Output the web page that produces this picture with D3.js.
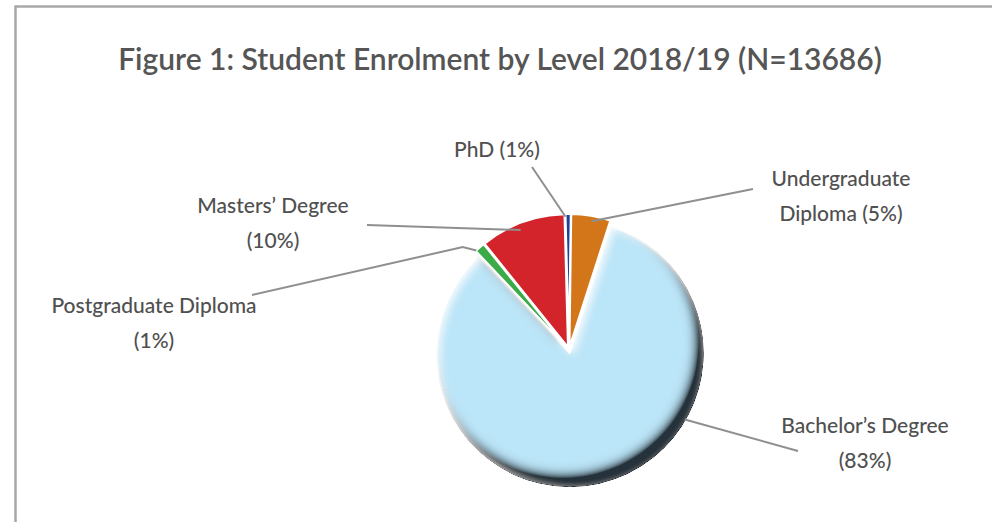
<!DOCTYPE html>
<html>
<head>
<meta charset="utf-8">
<script src="https://cdn.jsdelivr.net/npm/d3@7"></script>
<style>
  body { margin: 0; background: #fff; }
  svg text { font-family: Lato, "Open Sans", sans-serif; fill: #505050; }
</style>
</head>
<body>
<svg id="chart" width="992" height="522"></svg>
<script>
/* -------------------------------------------------------------------------- */
// data (clockwise from 12 o'clock)
const levels = ['PhD', 'Undergraduate Diploma', "Bachelor's Degree", 'Postgraduate Diploma', "Masters' Degree"];
const students = [86, 650, 11360, 170, 1420];
const pctLabels = ['1%', '5%', '83%', '1%', '10%'];
const colors = ['#1f3f9b', '#d27619', '#bbe5f8', '#3bab47', '#d3232b'];
const titleText = 'Figure 1: Student Enrolment by Level 2018/19 (N=13686)';

// label layout: text lines, anchor position, where the leader starts on the slice
const labelLayout = [
  { lines: ['PhD (1%)'], x: 497, y: 157, end: [532, 167], ang: -1.5, k: 0.98 },
  { lines: ['Undergraduate', 'Diploma (5%)'], x: 841, y: 186, end: [753, 189], ang: 10, k: 0.96 },
  { lines: ["Bachelor\u2019s Degree", '(83%)'], x: 865, y: 433, end: [798, 451], ang: 120, k: 1.0 },
  { lines: ['Postgraduate Diploma', '(1%)'], x: 154, y: 313, end: [252, 295], ang: -43, k: 1.0, elbow: 1.09 },
  { lines: ["Masters\u2019 Degree", '(10%)'], x: 273, y: 213, end: [367, 225], ang: -22, k: 0.95 }
];

/* -------------------------------------------------------------------------- */
const width = 992, height = 522;
const cx = 569, cy = 350, radius = 133, explode = 3;
const lineGap = 35;

let svg = d3.select('#chart');

// frame
svg.append('rect')
  .attr('x', 15.5).attr('y', 6.5)
  .attr('width', width + 20).attr('height', height + 20)
  .attr('fill', 'none')
  .attr('stroke', '#a8a8a8')
  .attr('stroke-width', 2.5);

svg.append('text')
  .attr('x', 500).attr('y', 70)
  .attr('text-anchor', 'middle')
  .style('font-size', '30px')
  .style('font-weight', 600)
  .style('fill', '#555')
  .text(titleText);

/* -------------------------------------------------------------------------- */
// bevel look of the big slice: dark rim bottom-right, soft light rim top-left
let defs = svg.append('defs');
let f = defs.append('filter').attr('id', 'bevel')
  .attr('x', '-10%').attr('y', '-10%').attr('width', '120%').attr('height', '120%');
f.append('feGaussianBlur').attr('in', 'SourceAlpha').attr('stdDeviation', 6).attr('result', 'blur');
f.append('feOffset').attr('in', 'blur').attr('dx', -7).attr('dy', -11).attr('result', 'offDark');
f.append('feComposite').attr('in', 'SourceAlpha').attr('in2', 'offDark')
  .attr('operator', 'arithmetic').attr('k2', 1.5).attr('k3', -1.5).attr('result', 'rimDark');
f.append('feFlood').attr('flood-color', '#25323a').attr('flood-opacity', 1);
f.append('feComposite').attr('in2', 'rimDark').attr('operator', 'in').attr('result', 'shadow');
f.append('feGaussianBlur').attr('in', 'SourceAlpha').attr('stdDeviation', 4).attr('result', 'blur2');
f.append('feOffset').attr('in', 'blur2').attr('dx', 4).attr('dy', 4).attr('result', 'offLight');
f.append('feComposite').attr('in', 'SourceAlpha').attr('in2', 'offLight')
  .attr('operator', 'arithmetic').attr('k2', 1).attr('k3', -1).attr('result', 'rimLight');
f.append('feFlood').attr('flood-color', '#ffffff').attr('flood-opacity', 0.9);
f.append('feComposite').attr('in2', 'rimLight').attr('operator', 'in').attr('result', 'light');
let fm = f.append('feMerge');
fm.append('feMergeNode').attr('in', 'SourceGraphic');
fm.append('feMergeNode').attr('in', 'shadow');
fm.append('feMergeNode').attr('in', 'light');

/* -------------------------------------------------------------------------- */
const rad = deg => deg * Math.PI / 180;

let pie = d3.pie()
  .sort(null)
  .value(i => students[i])
  .startAngle(rad(-1.5))
  .endAngle(rad(358.5));

let arc = d3.arc().innerRadius(0).outerRadius(radius);

let arcs = pie(d3.range(levels.length));
const maxVal = d3.max(students);

function shift(d) {
  let mid = (d.startAngle + d.endAngle) / 2;
  return d3.pointRadial(mid, explode);
}

let g = svg.append('g').attr('transform', `translate(${cx},${cy})`);

g.selectAll('path.slice')
  .data(arcs)
  .enter()
  .append('path')
  .attr('class', 'slice')
  .attr('transform', d => `translate(${shift(d)})`)
  .attr('d', arc)
  .attr('fill', d => colors[d.data])
  .attr('stroke', '#fff')
  .attr('stroke-width', 2)
  .attr('stroke-linejoin', 'round')
  .attr('filter', d => students[d.data] === maxVal ? 'url(#bevel)' : null);

/* -------------------------------------------------------------------------- */
// leader lines
let line = d3.line();
g.selectAll('path.leader')
  .data(arcs)
  .enter()
  .append('path')
  .attr('class', 'leader')
  .attr('d', d => {
    let L = labelLayout[d.data];
    let s = shift(d);
    let a = rad(L.ang);
    let p0 = d3.pointRadial(a, radius * L.k);
    let pts = [[p0[0] + s[0], p0[1] + s[1]]];
    if (L.elbow) {
      let pe = d3.pointRadial(a - rad(3), radius * L.elbow);
      pts.push([pe[0] + s[0], pe[1] + s[1]]);
    }
    pts.push([L.end[0] - cx, L.end[1] - cy]);
    return line(pts);
  })
  .attr('fill', 'none')
  .attr('stroke', '#8f8f8f')
  .attr('stroke-width', 2);

// labels
let lbl = svg.selectAll('text.lbl')
  .data(arcs)
  .enter()
  .append('text')
  .attr('class', 'lbl')
  .attr('text-anchor', 'middle')
  .style('font-size', '21px')
  .style('font-weight', 500);

lbl.selectAll('tspan')
  .data(d => labelLayout[d.data].lines.map((t, i) => ({ t: t, i: i, L: labelLayout[d.data] })))
  .enter()
  .append('tspan')
  .attr('x', d => d.L.x)
  .attr('y', d => d.L.y + d.i * lineGap)
  .text(d => d.t);
</script>
</body>
</html>
